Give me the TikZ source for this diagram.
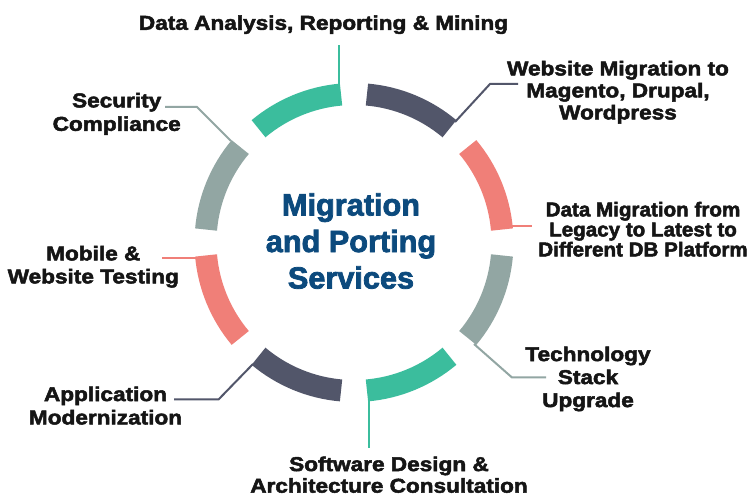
\documentclass[tikz,border=0pt]{standalone}
\usepackage{fontspec}
\newfontfamily\labfont{Liberation Sans}[FakeStretch=1.13,FakeBold=2.5]
\newfontfamily\labfontB{Liberation Sans}[FakeStretch=1.03,FakeBold=2.5]
\newfontfamily\ctrfont{Liberation Sans}[FakeBold=2.5]
\definecolor{cgreen}{HTML}{3BBD9D}
\definecolor{cdark}{HTML}{52566A}
\definecolor{csalmon}{HTML}{F07F78}
\definecolor{cgray}{HTML}{92A6A3}
\definecolor{cblue}{HTML}{0C4A7D}
\definecolor{ctext}{HTML}{151515}
\begin{document}
\begin{tikzpicture}[x=0.75pt,y=-0.75pt,
  seg/.style={line width=16.5pt},
  lead/.style={line width=1.5pt},
  lab/.style={anchor=north,inner sep=0pt,align=center,text=ctext,font=\labfont\bfseries\fontsize{15}{17.25}\selectfont},
  ctr/.style={anchor=north,inner sep=0pt,align=center,text=cblue,font=\ctrfont\bfseries\fontsize{23}{27.4}\selectfont}]
\useasboundingbox[fill=white] (0,0) rectangle (751,498);
\coordinate (C) at (354,242.5);
% leader coordinates
\coordinate (g1a) at (338.5,86);  \coordinate (g1b) at (338.5,45);
\coordinate (d8a) at (455,122);   \coordinate (d8b) at (490,84);   \coordinate (d8c) at (518,84);
\coordinate (s7a) at (511,226.5); \coordinate (s7b) at (532,226.5);
\coordinate (r6a) at (474,344);   \coordinate (r6b) at (512,377.5); \coordinate (r6c) at (546,377.5);
\coordinate (g5a) at (368.5,399); \coordinate (g5b) at (368.5,448);
\coordinate (d4a) at (253,364);   \coordinate (d4b) at (218.5,399.5); \coordinate (d4c) at (174,399.5);
\coordinate (s3a) at (196,258);   \coordinate (s3b) at (161.5,258);
\coordinate (r2a) at (231,141);   \coordinate (r2b) at (197,107);  \coordinate (r2c) at (165,107);
% leaders
\draw[lead,cgreen] (g1a) -- (g1b);
\draw[lead,cdark] (d8a) -- (d8b) -- (d8c);
\draw[lead,csalmon] (s7a) -- (s7b);
\draw[lead,cgray] (r6a) -- (r6b) -- (r6c);
\draw[lead,cgreen] (g5a) -- (g5b);
\draw[lead,cdark] (d4a) -- (d4b) -- (d4c);
\draw[lead,csalmon] (s3a) -- (s3b);
\draw[lead,cgray] (r2a) -- (r2b) -- (r2c);
% ring segments
\draw[seg,cgreen]   ([shift={(-95:148.5)}]C)  arc[start angle=-95,  end angle=-130, radius=148.5];
\draw[seg,cgray]    ([shift={(-140:148.5)}]C) arc[start angle=-140, end angle=-175, radius=148.5];
\draw[seg,csalmon]  ([shift={(-185:148.5)}]C) arc[start angle=-185, end angle=-220, radius=148.5];
\draw[seg,cdark]    ([shift={(-230:148.5)}]C) arc[start angle=-230, end angle=-265, radius=148.5];
\draw[seg,cgreen]   ([shift={(-275:148.5)}]C) arc[start angle=-275, end angle=-310, radius=148.5];
\draw[seg,cgray]    ([shift={(-320:148.5)}]C) arc[start angle=-320, end angle=-355, radius=148.5];
\draw[seg,csalmon]  ([shift={(-5:148.5)}]C)   arc[start angle=-5,   end angle=-40,  radius=148.5];
\draw[seg,cdark]    ([shift={(-50:148.5)}]C)  arc[start angle=-50,  end angle=-85,  radius=148.5];
% center text
\node[ctr] (center) at (351,193) {Migration\\and Porting\\Services};
% labels
\node[lab] (t1) at (323.5,15) {Data Analysis, Reporting \& Mining};
\node[lab,font=\labfont\bfseries\fontsize{15}{16.5}\selectfont] (t2) at (618,60.6) {Website Migration to\\Magento, Drupal,\\Wordpress};
\node[lab,font=\labfontB\bfseries\fontsize{15}{15}\selectfont] (t3) at (643,201.6) {Data Migration from\\Legacy to Latest to\\Different DB Platform};
\node[lab] (t4) at (588,346.3) {Technology\\Stack\\Upgrade};
\node[lab,font=\labfont\bfseries\fontsize{15}{16.2}\selectfont] (t5) at (389,456.3) {Software Design \&\\Architecture Consultation};
\node[lab,font=\labfont\bfseries\fontsize{15}{17.5}\selectfont] (t6) at (105.5,386.3) {Application\\Modernization};
\node[lab] (t7) at (93.3,245.6) {Mobile \&\\Website Testing};
\node[lab,font=\labfont\bfseries\fontsize{15}{17.6}\selectfont] (t8) at (116.7,92.6) {Security\\Compliance};
\end{tikzpicture}
\end{document}
